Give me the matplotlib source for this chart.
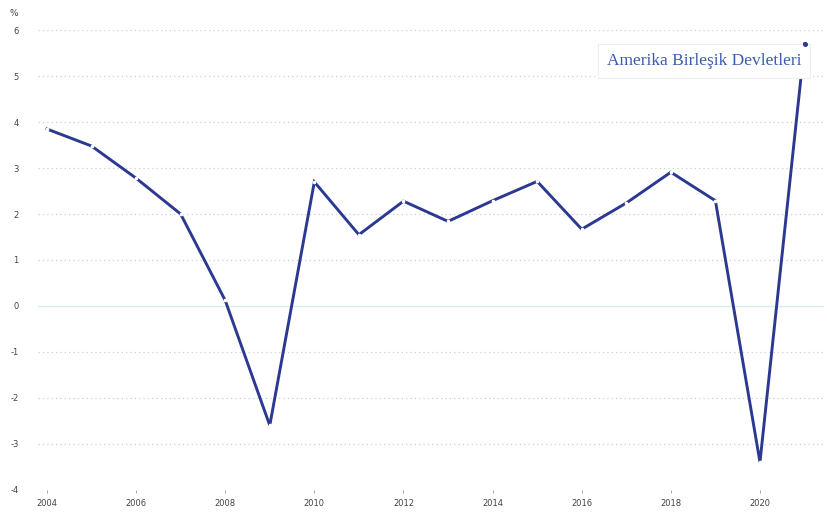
import matplotlib.pyplot as plt

plt.rcParams['axes.unicode_minus'] = False

# annual GDP growth, %
years = list(range(2004, 2022))
growth = [3.85, 3.48, 2.78, 2.0, 0.12, -2.6, 2.70, 1.55, 2.28, 1.84,
          2.29, 2.71, 1.67, 2.24, 2.91, 2.29, -3.4, 5.7]
series_name = 'Amerika Birleşik Devletleri'
y_ticks = list(range(-4, 7))
x_ticks = list(range(2004, 2021, 2))

fig = plt.figure(figsize=(8.27, 5.21), dpi=100)
ax = fig.add_axes([0.046, 0.06, 0.95, 0.882])

for t in y_ticks:
    if t == 0:
        ax.axhline(t, color='#d6ecf0', lw=1.0, zorder=1)
    else:
        ax.axhline(t, color='#cfcfcf', lw=0.9, ls=(0, (1, 2.5)), zorder=1)

ax.plot(years, growth, color='#2b3990', lw=2.1, zorder=3, solid_joinstyle='miter')
ax.plot(years[:-1], growth[:-1], ls='none', marker='o', ms=1.6, mfc='white', mec='white', zorder=4)

ax.text(2020.93, 5.33, series_name, family='Liberation Serif', fontsize=12.5, color='#3a5cb0',
        ha='right', va='center', zorder=5,
        bbox=dict(boxstyle='square,pad=0.5', fc='white', ec='#eeeeee', lw=0.8))
ax.plot(years[-1], growth[-1], ls='none', marker='o', ms=2.6, color='#2b3990', zorder=6)

ax.set_xlim(2003.8, 2021.43)
ax.set_ylim(-4, 6)
ax.set_yticks(y_ticks)
ax.set_xticks(x_ticks)
ax.tick_params(axis='y', length=0, labelsize=6, colors='#444444', pad=14)
ax.tick_params(axis='x', length=2, width=0.6, color='#999999', labelsize=6, colors='#444444', pad=5)
for s in ax.spines.values():
    s.set_visible(False)

fig.text(0.012, 0.975, '%', fontsize=6.5, color='#444444', ha='left', va='center')

fig.savefig('out.png', dpi=100)
